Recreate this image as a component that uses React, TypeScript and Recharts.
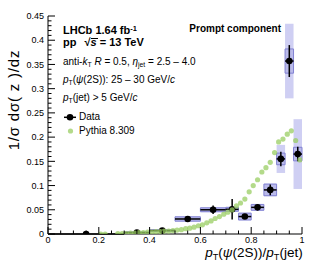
import React from "react";
import { ComposedChart, XAxis, YAxis, Scatter, ErrorBar, ReferenceArea } from "recharts";

const FONT = "'Liberation Sans', Arial, Helvetica, sans-serif";

// measured data (bin centre, half bin width, value, stat err, two syst boxes)
const dataZ = [0.15, 0.35, 0.45, 0.55, 0.65, 0.725, 0.775, 0.825, 0.875, 0.9167, 0.95, 0.9833];
const dataHalfBin = [0.15, 0.05, 0.05, 0.05, 0.05, 0.025, 0.025, 0.025, 0.025, 0.0167, 0.0167, 0.0167];
const dataY = [0.0, 0.003, 0.007, 0.031, 0.05, 0.051, 0.036, 0.055, 0.091, 0.155, 0.357, 0.165];
const dataStat = [0, 0.002, 0.002, 0.003, 0.0086, 0.021, 0.005, 0.006, 0.011, 0.015, 0.033, 0.015];
const dataSysOuter = [0, 0.0015, 0.002, 0.005, 0.005, 0.005, 0.008, 0.007, 0.013, 0.029, 0.077, 0.072];
const dataSysInner = [0, 0.001, 0.0015, 0.0045, 0.004, 0.004, 0.007, 0.006, 0.012, 0.012, 0.025, 0.014];

// Pythia 8.309 prediction
const pythiaZ = [
  0.208, 0.225, 0.275, 0.292, 0.308, 0.325, 0.342, 0.358, 0.375, 0.392, 0.408, 0.425, 0.442, 0.458,
  0.475, 0.492, 0.508, 0.525, 0.542, 0.558, 0.575, 0.592, 0.608, 0.625, 0.642, 0.658, 0.675, 0.692,
  0.708, 0.725, 0.742, 0.758, 0.775, 0.792, 0.808, 0.825, 0.842, 0.858, 0.875, 0.892, 0.908, 0.925,
  0.942, 0.958, 0.975, 0.992,
];
const pythiaY = [
  0.0, 0.0, 0.001, 0.001, 0.001, 0.002, 0.002, 0.003, 0.003, 0.004, 0.004, 0.005, 0.005, 0.006,
  0.006, 0.007, 0.008, 0.009, 0.011, 0.012, 0.014, 0.017, 0.019, 0.023, 0.027, 0.032, 0.036, 0.041,
  0.045, 0.05, 0.058, 0.064, 0.072, 0.087, 0.1, 0.112, 0.128, 0.137, 0.148, 0.168, 0.19, 0.196,
  0.206, 0.213, 0.193, 0.153,
];

const xMajorTicks = [0, 0.2, 0.4, 0.6, 0.8, 1];
const xMajorLabels = ["0", "0.2", "0.4", "0.6", "0.8", "1"];
const yMajorTicks = [0, 0.05, 0.1, 0.15, 0.2, 0.25, 0.3, 0.35, 0.4, 0.45];
const yMajorLabels = ["0", "0.05", "0.1", "0.15", "0.2", "0.25", "0.3", "0.35", "0.4", "0.45"];

// minor ticks: x every 0.05, y every 0.01
const xTicks: number[] = [];
for (let i = 0; i <= 20; i++) xTicks.push(i / 20);
const yTicks: number[] = [];
for (let i = 0; i <= 45; i++) yTicks.push(i / 100);

const majorIdx = (list: number[], v: number) => list.findIndex((t) => Math.abs(t - v) < 1e-6);

const MAJ = 7;
const MIN = 3.5;

const BottomTick = (p: any) => {
  const i = majorIdx(xMajorTicks, p.payload.value);
  const len = i >= 0 ? MAJ : MIN;
  return (
    <g>
      <line x1={p.x} x2={p.x} y1={p.y} y2={p.y - len} stroke="#000" strokeWidth={1} />
      {i >= 0 && (
        <text x={p.x} y={p.y + 9} textAnchor="middle" fontSize={9} fontFamily={FONT} fill="#000">
          {xMajorLabels[i]}
        </text>
      )}
    </g>
  );
};

const TopTick = (p: any) => {
  const len = majorIdx(xMajorTicks, p.payload.value) >= 0 ? MAJ : MIN;
  return <line x1={p.x} x2={p.x} y1={p.y} y2={p.y + len} stroke="#000" strokeWidth={1} />;
};

const LeftTick = (p: any) => {
  const i = majorIdx(yMajorTicks, p.payload.value);
  const len = i >= 0 ? MAJ : MIN;
  return (
    <g>
      <line x1={p.x} x2={p.x + len} y1={p.y} y2={p.y} stroke="#000" strokeWidth={1} />
      {i >= 0 && (
        <text x={p.x - 4} y={p.y + 3.2} textAnchor="end" fontSize={9} fontFamily={FONT} fill="#000">
          {yMajorLabels[i]}
        </text>
      )}
    </g>
  );
};

const RightTick = (p: any) => {
  const len = majorIdx(yMajorTicks, p.payload.value) >= 0 ? MAJ : MIN;
  return <line x1={p.x} x2={p.x - len} y1={p.y} y2={p.y} stroke="#000" strokeWidth={1} />;
};

const dataRows = dataZ.map((z, i) => ({ x: z, y: dataY[i], ex: dataHalfBin[i], ey: dataStat[i] }));
const pythiaRows = pythiaZ.map((z, i) => ({ x: z, y: pythiaY[i] }));

const DataDot = (p: any) => <circle cx={p.cx} cy={p.cy} r={3.3} fill="#000" />;
const PythiaDot = (p: any) => <circle cx={p.cx} cy={p.cy} r={2.6} fill="#9acd63" fillOpacity={0.75} />;

const Sub = ({ children }: { children: React.ReactNode }) => (
  <span style={{ fontSize: "0.68em", position: "relative", top: "0.32em" }}>{children}</span>
);
const Sup = ({ children }: { children: React.ReactNode }) => (
  <span style={{ fontSize: "0.68em", position: "relative", top: "-0.45em" }}>{children}</span>
);

const Txt = ({ x, base, size, bold, right, children }: any) => (
  <div
    style={{
      position: "absolute",
      left: right === undefined ? x : undefined,
      right: right,
      top: base - 0.847 * size,
      fontSize: size,
      lineHeight: 1,
      fontWeight: bold ? "bold" : "normal",
      fontFamily: FONT,
      whiteSpace: "nowrap",
      color: "#000",
    }}
  >
    {children}
  </div>
);

export default function App() {
  return (
    <div style={{ position: "fixed", left: 0, top: 0, width: 315, height: 276, background: "#fff" }}>
      <ComposedChart width={315} height={276} margin={{ top: 16, right: 13, bottom: 0, left: 0 }}>
        <XAxis
          xAxisId="b"
          dataKey="x"
          type="number"
          domain={[0, 1]}
          allowDataOverflow
          ticks={xTicks}
          interval={0}
          height={42}
          tickSize={0}
          tickMargin={0}
          tickLine={false}
          axisLine={{ stroke: "#000" }}
          tick={BottomTick}
        />
        <XAxis
          xAxisId="t"
          orientation="top"
          dataKey="x"
          type="number"
          domain={[0, 1]}
          allowDataOverflow
          ticks={xTicks}
          interval={0}
          height={0}
          tickSize={0}
          tickMargin={0}
          tickLine={false}
          axisLine={{ stroke: "#000" }}
          tick={TopTick}
        />
        <YAxis
          yAxisId="l"
          type="number"
          domain={[0, 0.45]}
          allowDataOverflow
          ticks={yTicks}
          interval={0}
          width={48}
          tickSize={0}
          tickMargin={0}
          tickLine={false}
          axisLine={{ stroke: "#000" }}
          tick={LeftTick}
        />
        <YAxis
          yAxisId="r"
          orientation="right"
          type="number"
          domain={[0, 0.45]}
          allowDataOverflow
          ticks={yTicks}
          interval={0}
          width={0}
          tickSize={0}
          tickMargin={0}
          tickLine={false}
          axisLine={{ stroke: "#000" }}
          tick={RightTick}
        />

        {dataZ.map((z, i) =>
          dataSysOuter[i] > 0 ? (
            <ReferenceArea
              key={`so-${i}`}
              xAxisId="b"
              yAxisId="l"
              x1={z - dataHalfBin[i]}
              x2={z + dataHalfBin[i]}
              y1={dataY[i] - dataSysOuter[i]}
              y2={dataY[i] + dataSysOuter[i]}
              fill="#cfcff3"
              fillOpacity={1}
              stroke="none"
              ifOverflow="visible"
            />
          ) : null
        )}
        {dataZ.map((z, i) =>
          dataSysInner[i] > 0 ? (
            <ReferenceArea
              key={`si-${i}`}
              xAxisId="b"
              yAxisId="l"
              x1={z - dataHalfBin[i]}
              x2={z + dataHalfBin[i]}
              y1={dataY[i] - dataSysInner[i]}
              y2={dataY[i] + dataSysInner[i]}
              fill="#babaea"
              fillOpacity={1}
              stroke="#8282d2"
              strokeWidth={1}
              ifOverflow="visible"
            />
          ) : null
        )}

        <Scatter
          xAxisId="b"
          yAxisId="l"
          data={dataRows}
          dataKey="y"
          shape={DataDot}
          isAnimationActive={false}
        >
          <ErrorBar dataKey="ex" direction="x" width={0} stroke="#000" strokeWidth={1.5} isAnimationActive={false} />
          <ErrorBar dataKey="ey" direction="y" width={0} stroke="#000" strokeWidth={1.5} isAnimationActive={false} />
        </Scatter>
        <Scatter
          xAxisId="b"
          yAxisId="l"
          data={pythiaRows}
          dataKey="y"
          shape={PythiaDot}
          isAnimationActive={false}
        />
      </ComposedChart>

      {/* annotations */}
      <Txt x={63} base={34.3} size={11} bold>
        LHCb 1.64 fb<Sup>-1</Sup>
      </Txt>
      <Txt x={63} base={46} size={11} bold>
        pp<span style={{ marginLeft: 8 }}>√</span>
        <span style={{ position: "relative", display: "inline-block", fontStyle: "italic" }}>
          s
          <span
            style={{ position: "absolute", left: 0, right: -1, top: 1.5, borderTop: "1px solid #000" }}
          />
        </span>{" "}
        = 13 TeV
      </Txt>
      <Txt right={34} base={32.3} size={10} bold>
        Prompt component
      </Txt>
      <Txt x={63} base={65} size={10}>
        anti-<i>k</i>
        <Sub>T</Sub> <i>R</i> = 0.5, <i>η</i>
        <Sub>jet</Sub> = 2.5 – 4.0
      </Txt>
      <Txt x={63} base={83.5} size={10}>
        <i>p</i>
        <Sub>T</Sub>(<i>ψ</i>(2S)): 25 – 30 GeV/<i>c</i>
      </Txt>
      <Txt x={63} base={101.5} size={10}>
        <i>p</i>
        <Sub>T</Sub>(jet) &gt; 5 GeV/<i>c</i>
      </Txt>
      <Txt x={79} base={120.7} size={10}>
        Data
      </Txt>
      <Txt x={79} base={134.5} size={10}>
        Pythia 8.309
      </Txt>
      <svg style={{ position: "absolute", left: 0, top: 0 }} width={315} height={276}>
        <line x1={64} x2={76} y1={117.3} y2={117.3} stroke="#000" strokeWidth={1.5} />
        <circle cx={70} cy={117.3} r={3.3} fill="#000" />
        <circle cx={70.5} cy={131} r={2.6} fill="#9acd63" fillOpacity={0.75} />
      </svg>

      {/* axis titles */}
      <div
        style={{
          position: "absolute",
          left: 13,
          top: 100,
          transform: "translate(-50%, -50%) rotate(-90deg)",
          fontSize: 15,
          letterSpacing: 0.8,
          fontFamily: FONT,
          whiteSpace: "nowrap",
          lineHeight: 1,
        }}
      >
        1/σ dσ( z )/dz
      </div>
      <div
        style={{
          position: "absolute",
          right: 12.3,
          top: 247.3,
          fontSize: 13.5,
          lineHeight: "11px",
          fontFamily: FONT,
          whiteSpace: "nowrap",
        }}
      >
        <i>p</i>
        <Sub>T</Sub>(<i>ψ</i>(2S))/<i>p</i>
        <Sub>T</Sub>(jet)
      </div>
    </div>
  );
}
